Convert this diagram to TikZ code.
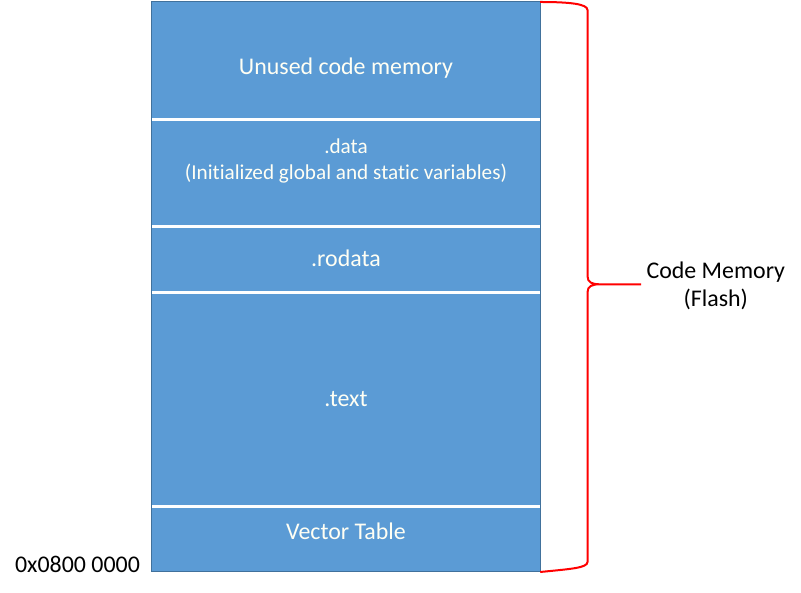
\documentclass[tikz,border=0pt]{standalone}
\usepackage{fontspec}
\setmainfont{Carlito}[Ligatures=NoCommon]
\usetikzlibrary{positioning}
\definecolor{memblue}{HTML}{5B9BD5}
\definecolor{memedge}{HTML}{41719C}
\definecolor{memtext}{HTML}{FFFFF4}
\tikzset{
  segment/.style={fill=memblue, minimum width=388bp, inner sep=0pt, anchor=north},
  segtext/.style={text=memtext, anchor=base, inner sep=0pt, font=\fontsize{24}{29}\selectfont},
  notetext/.style={segtext, font=\fontsize{21.3}{26}\selectfont},
  sidetext/.style={text=black, anchor=base, inner sep=0pt, font=\fontsize{24}{29}\selectfont},
  sepline/.style={white, line width=3bp},
  brace/.style={red, line width=2bp, line join=round}
}
\begin{document}
\begin{tikzpicture}[x=1bp,y=1bp]
\useasboundingbox (0,0) rectangle (801,593);
% memory segments, top to bottom
\node[segment, minimum height=117.5bp] (unused) at (346,591) {};
\node[segment, minimum height=106bp, below=0pt of unused] (data) {};
\node[segment, minimum height=66bp, below=0pt of data] (rodata) {};
\node[segment, minimum height=213bp, below=0pt of rodata] (text) {};
\node[segment, minimum height=65.5bp, below=0pt of text] (vt) {};
\draw[memedge, line width=1bp] (unused.north west) rectangle (vt.south east);
\foreach \s in {unused,data,rodata,text}
  \draw[sepline] (\s.south west) -- (\s.south east);
% labels
\node[segtext] (unusedlbl) at (346,518.5) {Unused code memory};
\node[notetext] (datalbl) at (346,439.5) {.data};
\node[notetext] (datanote) at (346,413) {(Initialized global and static variables)};
\node[segtext] (rodatalbl) at (346,326.5) {.rodata};
\node[segtext] (textlbl) at (346,186.5) {.text};
\node[segtext] (vtlbl) at (346,53.5) {Vector Table};
\node[sidetext] (addr) at (77.5,20) {0x0800 0000};
% brace
\coordinate (tip) at (641,308.7);
\draw[brace] (unused.north east) .. controls (570,591) and (587.5,589) .. (587.5,583)
  -- (587.5,317) .. controls (587.5,310.5) and (592,308.7) .. (600,308.7) -- (tip)
  (600,308.7) .. controls (592,308.7) and (587.5,307) .. (587.5,300.5)
  -- (587.5,31) .. controls (587.5,25) and (570,24) .. (vt.south east);
\node[sidetext] (codemem) at (715.8,314) {Code Memory};
\node[sidetext] (flash) at (715.8,286.5) {(Flash)};
\end{tikzpicture}
\end{document}
